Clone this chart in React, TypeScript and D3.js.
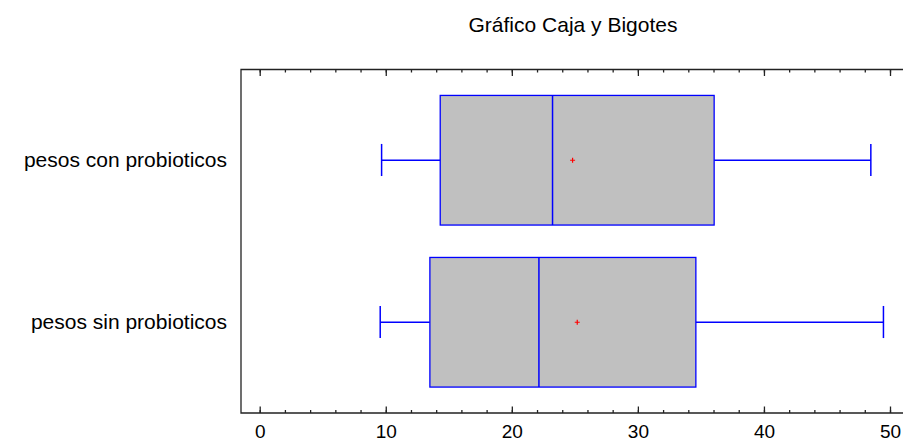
import * as d3 from "d3";
import React, { useRef, useEffect } from "react";

// datos del grafico
const categories = ["pesos con probioticos", "pesos sin probioticos"];
const minVals = [9.67, 9.56];
const q1Vals = [14.32, 13.5];
const medianVals = [23.23, 22.15];
const meanVals = [24.82, 25.19];
const q3Vals = [36.05, 34.6];
const maxVals = [48.48, 49.48];
const xTicks = [0, 10, 20, 30, 40, 50];
const xMinorTicks = d3.range(0, 52, 2);

const title = "Gráfico Caja y Bigotes";

const App = () => {
  const ref = useRef(null);
  const width = 903;
  const height = 442;

  useEffect(() => {
    const svg = d3.select(ref.current);
    svg.selectAll("*").remove();

    const left = 241;
    const top = 69.5;
    const bottom = 413;
    const font = "'Liberation Sans', Arial, sans-serif";

    const x = d3.scaleLinear().domain([0, 50]).range([259.7, 890]);
    const y = d3.scalePoint().domain(categories).range([top, bottom]).padding(0.56);
    const step = y.step();
    const boxH = step * 0.8;
    const capH = step * 0.195;

    const data = categories.map((c, i) => ({
      cat: c,
      min: minVals[i],
      q1: q1Vals[i],
      med: medianVals[i],
      mean: meanVals[i],
      q3: q3Vals[i],
      max: maxVals[i],
    }));

    // titulo
    svg.append("text")
      .attr("x", 573)
      .attr("y", 32)
      .attr("text-anchor", "middle")
      .style("font-family", font)
      .style("font-size", "21px")
      .attr("fill", "#000")
      .text(title);

    // marco
    svg.append("path")
      .attr("d", `M${width + 20},${top}H${left}V${bottom}H${width + 20}`)
      .attr("fill", "none")
      .attr("stroke", "#222")
      .attr("stroke-width", 1.3);

    // ejes
    const minorBottom = svg.append("g").attr("transform", `translate(0,${bottom})`);
    minorBottom.call(d3.axisBottom(x).tickValues(xMinorTicks).tickSize(-3).tickFormat(() => ""));
    const minorTop = svg.append("g").attr("transform", `translate(0,${top})`);
    minorTop.call(d3.axisTop(x).tickValues(xMinorTicks).tickSize(-3).tickFormat(() => ""));

    const axB = svg.append("g").attr("transform", `translate(0,${bottom})`);
    axB.call(d3.axisBottom(x).tickValues(xTicks).tickSize(-6.5).tickPadding(11.5).tickFormat(d3.format("d")));
    const axT = svg.append("g").attr("transform", `translate(0,${top})`);
    axT.call(d3.axisTop(x).tickValues(xTicks).tickSize(-6.5).tickFormat(() => ""));

    svg.selectAll(".domain").remove();
    svg.selectAll(".tick line").attr("stroke", "#222").attr("stroke-width", 1.3);
    axB.selectAll(".tick text")
      .style("font-family", font)
      .style("font-size", "19px")
      .attr("fill", "#000");

    // etiquetas de categorias
    svg.append("g")
      .selectAll("text")
      .data(categories)
      .enter()
      .append("text")
      .attr("x", 227)
      .attr("y", (d) => y(d) + 7)
      .attr("text-anchor", "end")
      .style("font-family", font)
      .style("font-size", "21px")
      .attr("fill", "#000")
      .text((d) => d);

    const blue = "#0000ff";
    const g = svg.append("g").selectAll("g").data(data).enter().append("g");

    // bigotes
    g.append("line")
      .attr("x1", (d) => x(d.min))
      .attr("x2", (d) => x(d.q1))
      .attr("y1", (d) => y(d.cat))
      .attr("y2", (d) => y(d.cat))
      .attr("stroke", blue)
      .attr("stroke-width", 1.5);
    g.append("line")
      .attr("x1", (d) => x(d.q3))
      .attr("x2", (d) => x(d.max))
      .attr("y1", (d) => y(d.cat))
      .attr("y2", (d) => y(d.cat))
      .attr("stroke", blue)
      .attr("stroke-width", 1.5);
    g.append("line")
      .attr("x1", (d) => x(d.min))
      .attr("x2", (d) => x(d.min))
      .attr("y1", (d) => y(d.cat) - capH / 2 - 0.5)
      .attr("y2", (d) => y(d.cat) + capH / 2)
      .attr("stroke", blue)
      .attr("stroke-width", 1.5);
    g.append("line")
      .attr("x1", (d) => x(d.max))
      .attr("x2", (d) => x(d.max))
      .attr("y1", (d) => y(d.cat) - capH / 2 - 0.5)
      .attr("y2", (d) => y(d.cat) + capH / 2)
      .attr("stroke", blue)
      .attr("stroke-width", 1.5);

    // caja
    g.append("rect")
      .attr("x", (d) => x(d.q1))
      .attr("y", (d) => y(d.cat) - boxH / 2)
      .attr("width", (d) => x(d.q3) - x(d.q1))
      .attr("height", boxH)
      .attr("fill", "#c0c0c0")
      .attr("stroke", blue)
      .attr("stroke-width", 1.3);

    // mediana
    g.append("line")
      .attr("x1", (d) => x(d.med))
      .attr("x2", (d) => x(d.med))
      .attr("y1", (d) => y(d.cat) - boxH / 2)
      .attr("y2", (d) => y(d.cat) + boxH / 2)
      .attr("stroke", blue)
      .attr("stroke-width", 1.5);

    // media
    g.append("path")
      .attr("d", (d) => {
        const cx = x(d.mean);
        const cy = y(d.cat);
        return `M${cx - 2.5},${cy}H${cx + 2.5}M${cx},${cy - 2.5}V${cy + 2.5}`;
      })
      .attr("stroke", "#ff0000")
      .attr("stroke-width", 1.2)
      .attr("fill", "none");
  }, []);

  return (
    <svg
      ref={ref}
      width={width}
      height={height}
      style={{ position: "absolute", left: 0, top: 0, background: "#fff" }}
    />
  );
};

export default App;
